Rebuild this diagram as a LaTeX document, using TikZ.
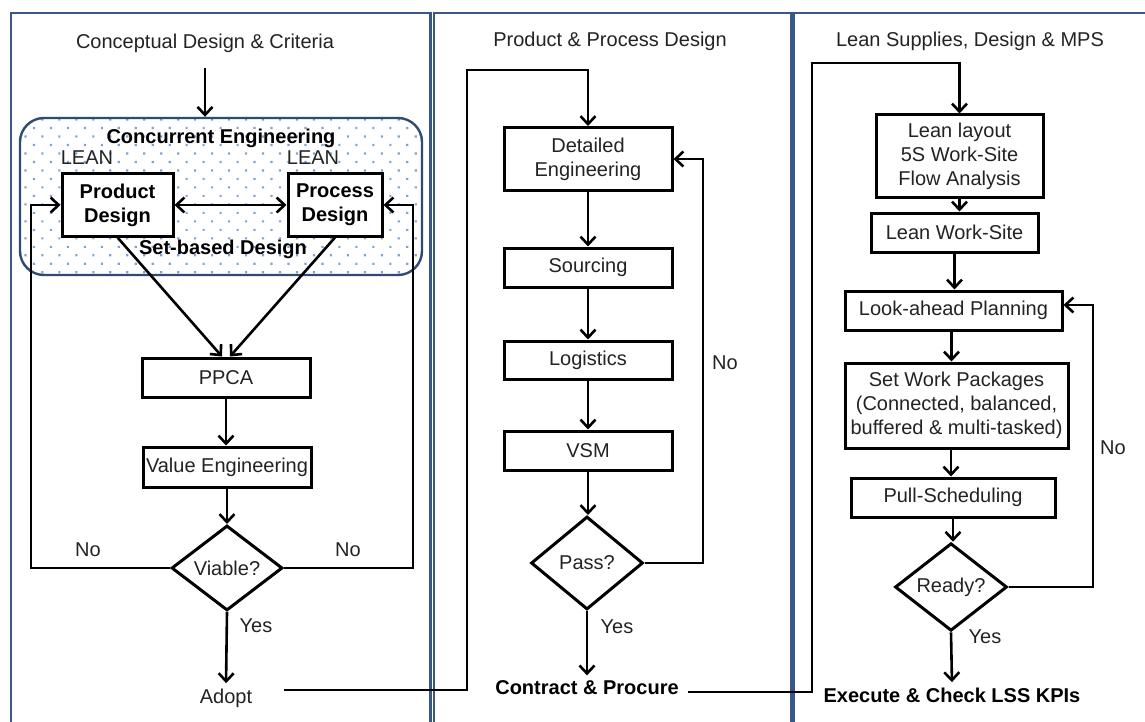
\documentclass[tikz,border=0pt]{standalone}
\usepackage{fontspec}
\setmainfont{Liberation Sans}
\usetikzlibrary{arrows.meta,shapes.geometric,patterns.meta}
\definecolor{frameblue}{RGB}{58,88,135}
\definecolor{ceblue}{RGB}{45,75,115}
\definecolor{dotblue}{RGB}{125,162,218}
\definecolor{txt}{RGB}{35,35,35}

\begin{document}
\begin{tikzpicture}[x=1pt,y=-1pt,
  font=\fontsize{20}{24}\selectfont,
  >={Straight Barb[length=8pt,width=15pt]},
  every node/.style={text=txt},
  box/.style={draw=black, line width=3pt, fill=white, align=center, inner sep=0pt},
  dec/.style={diamond, draw=black, line width=3pt, fill=white, inner sep=0pt},
  conn/.style={line width=2.6pt},
  panel/.style={draw=frameblue, line width=2.2pt},
  strong/.style={font=\fontsize{20}{24}\selectfont\bfseries, text=black}
]
\useasboundingbox (0,0) rectangle (1145,722);
\fill[white] (0,0) rectangle (1145,722);
\clip (0,0) rectangle (1145,722);

% three column frames
\draw[panel] (11,13) rectangle (430.5,760);
\draw[panel] (434,13) rectangle (791,760);
\draw[panel] (793.5,13) rectangle (1170,760);

% ---------- column 1 ----------
\node (t1) at (205,43) {Conceptual Design \& Criteria};
\node[draw=ceblue, line width=2.4pt, rounded corners=24pt,
      minimum width=402pt, minimum height=157pt,
      pattern={Dots[radius=1.5pt,distance=12pt,angle=45]}, pattern color=dotblue] (ce) at (221,196.5) {};
\coordinate (c0) at (205,68);
\draw[conn,->] (c0) -- (c0 |- ce.north);

\node[strong] (cet) at (221,138) {Concurrent Engineering};
\node (lean1) at (87,158) {LEAN};
\node (lean2) at (313,158) {LEAN};
\node[box, strong, minimum width=111pt, minimum height=62pt] (pd) at (117.5,205) {Product\\Design};
\node[box, strong, minimum width=94pt, minimum height=62pt] (prd) at (335,205) {Process\\Design};
\node[strong] (sbd) at (223,249) {Set-based Design};
\draw[conn,<->] (pd.east) -- (prd.west);

\node[box, minimum width=168pt, minimum height=39pt] (ppca) at (226,377.5) {PPCA};
\node[box, minimum width=168pt, minimum height=40pt] (ve) at (227,467) {Value Engineering};
\node[dec, minimum width=111pt, minimum height=85pt] (viable) at (227,568) {Viable?};
\node (adopt) at (226,698) {Adopt};

\draw[conn,->] (pd.south) -- ([xshift=-4pt]ppca.north);
\draw[conn,->] (prd.south) -- ([xshift=4pt]ppca.north);
\draw[conn,->] (ppca.south) -- (ppca.south |- ve.north);
\draw[conn,->] (ve.south) -- (ve.south |- viable.north);
\coordinate (nl) at (31,568);
\coordinate (nr) at (413,568);
\draw[conn,->] (viable.west) -- (nl) |- (pd.west);
\draw[conn,->] (viable.east) -- (nr) |- (prd.east);
\node (no1) at (88,550) {No};
\node (no2) at (348,550) {No};
\node (yes1) at (256,626) {Yes};
\draw[conn,->,shorten >=2pt] (viable.south) -- (adopt.north);

% ---------- column 2 ----------
\node (t2) at (610,41) {Product \& Process Design};
\node[box, minimum width=168pt, minimum height=63pt] (de) at (588,159) {Detailed\\Engineering};
\node[box, minimum width=168pt, minimum height=39pt] (src) at (588,267.5) {Sourcing};
\node[box, minimum width=168pt, minimum height=38pt] (log) at (588,360) {Logistics};
\node[box, minimum width=168pt, minimum height=39pt] (vsm) at (588,450.5) {VSM};
\node[dec, minimum width=112pt, minimum height=93pt] (pass) at (587,563) {Pass?};
\node[strong] (cp) at (587,688) {Contract \& Procure};

\coordinate (m1) at (467,70);
\draw[conn,->] ([shift={(28pt,8pt)}]adopt.east) -| (m1) -| (de.north);
\draw[conn,->] (de.south) -- (de.south |- src.north);
\draw[conn,->] (src.south) -- (src.south |- log.north);
\draw[conn,->] (log.south) -- (log.south |- vsm.north);
\draw[conn,->] (vsm.south) -- (vsm.south |- pass.north);
\coordinate (pr) at (703,159);
\draw[conn,->] (pass.east) -| (pr) -- (de.east);
\node (no3) at (725,363) {No};
\node (yes2) at (617,627) {Yes};
\draw[conn,->,shorten >=2pt] (pass.south) -- (cp.north);

% ---------- column 3 ----------
\node (t3) at (970,41) {Lean Supplies, Design \& MPS};
\node[box, minimum width=167pt, minimum height=83pt] (ll) at (959.5,156.5) {Lean layout\\5S Work-Site\\Flow Analysis};
\node[box, minimum width=167pt, minimum height=39pt] (lws) at (954.5,232.5) {Lean Work-Site};
\node[box, minimum width=217pt, minimum height=39pt] (lap) at (953.5,310.5) {Look-ahead Planning};
\node[box, minimum width=223pt, minimum height=85pt] (swp) at (956.5,405.5) {Set Work Packages\\(Connected, balanced,\\buffered \& multi-tasked)};
\node[box, minimum width=204pt, minimum height=39pt] (ps) at (953,497.5) {Pull-Scheduling};
\node[dec, minimum width=112pt, minimum height=75pt] (ready) at (951,587) {Ready?};
\node[strong] (ex) at (952,695) {Execute \& Check LSS KPIs};

\coordinate (m2) at (812,63);
\draw[conn,->] ([shift={(6pt,-4pt)}]cp.east) -| (m2) -| (ll.north);
\draw[conn,->] (ll.south) -- (ll.south |- lws.north);
\draw[conn,->] (lws.south) -- (lws.south |- lap.north);
\draw[conn,->] ([xshift=-2pt]lap.south) -- ([xshift=-2pt]lap.south |- swp.north);
\draw[conn,->] ([xshift=-2pt]ps.north |- swp.south) -- ([xshift=-2pt]ps.north);
\draw[conn,->] (ps.south) -- (ps.south |- ready.north);
\coordinate (r3) at (1093,305);
\draw[conn,->] (ready.east) -| (r3) -- (lap.east |- r3);
\node (no4) at (1113,448) {No};
\node (yes3) at (985,637) {Yes};
\draw[conn,->,shorten >=2pt] (ready.south) -- (ex.north);
\end{tikzpicture}
\end{document}
